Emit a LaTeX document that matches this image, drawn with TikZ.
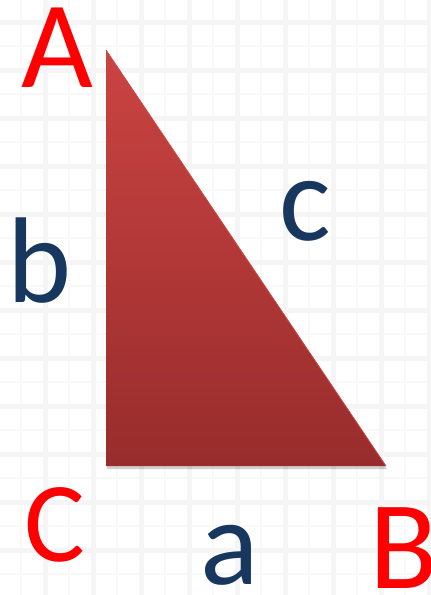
\documentclass[tikz,border=0pt]{standalone}
\usepackage{fontspec}
\setmainfont{Carlito}
\definecolor{vred}{HTML}{FF0000}
\definecolor{sblue}{HTML}{17375E}
\definecolor{tritop}{HTML}{CA4442}
\definecolor{tribot}{HTML}{982C2C}
\definecolor{triedge}{HTML}{C94A48}
\begin{document}
\begin{tikzpicture}[x=1pt,y=-1pt,
  vlabel/.style={text=vred,inner sep=0pt,anchor=base},
  slabel/.style={text=sblue,inner sep=0pt,anchor=base},
  gridmaj/.style={draw=black!4,line width=5pt},
  gridmin/.style={draw=black!2.5,line width=2pt}]
\useasboundingbox (0,0) rectangle (431,595);
\fill[white] (0,0) rectangle (431,595);
% faint background grid
\foreach \k in {0,...,12} {
  \draw[gridmin] (21+48*\k,0) -- (21+48*\k,595);
  \draw[gridmin] (0,46+48*\k) -- (431,46+48*\k);
}
\foreach \k in {0,...,9} {
  \draw[gridmaj] (45+48*\k,0) -- (45+48*\k,595);
}
\foreach \k in {0,...,12} {
  \draw[gridmaj] (0,22+48*\k) -- (431,22+48*\k);
}
% triangle
\coordinate (A) at (106,50);
\coordinate (C) at (106,466);
\coordinate (B) at (386,466);
\fill[black,opacity=0.18] ([shift={(1,3)}]A) -- ([shift={(1,3)}]C) -- ([shift={(1,3)}]B) -- cycle;
\shade[top color=tritop,bottom color=tribot] (A) -- (C) -- (B) -- cycle;
\draw[triedge,line width=0.8pt,line join=round] (A) -- (B);
% labels
\node[vlabel,font=\fontsize{124}{124}\selectfont] (lA) at (57,87) {A};
\node[vlabel,font=\fontsize{126}{126}\selectfont] (lB) at (404,588) {B};
\node[vlabel,font=\fontsize{114}{114}\selectfont] (lC) at (55,561) {C};
\node[slabel,font=\fontsize{122}{122}\selectfont] (la) at (230,584) {a};
\node[slabel,font=\fontsize{122}{122}\selectfont] (lb) at (40,302) {b};
\node[slabel,font=\fontsize{122}{122}\selectfont] (lc) at (305,240) {c};
\end{tikzpicture}
\end{document}
